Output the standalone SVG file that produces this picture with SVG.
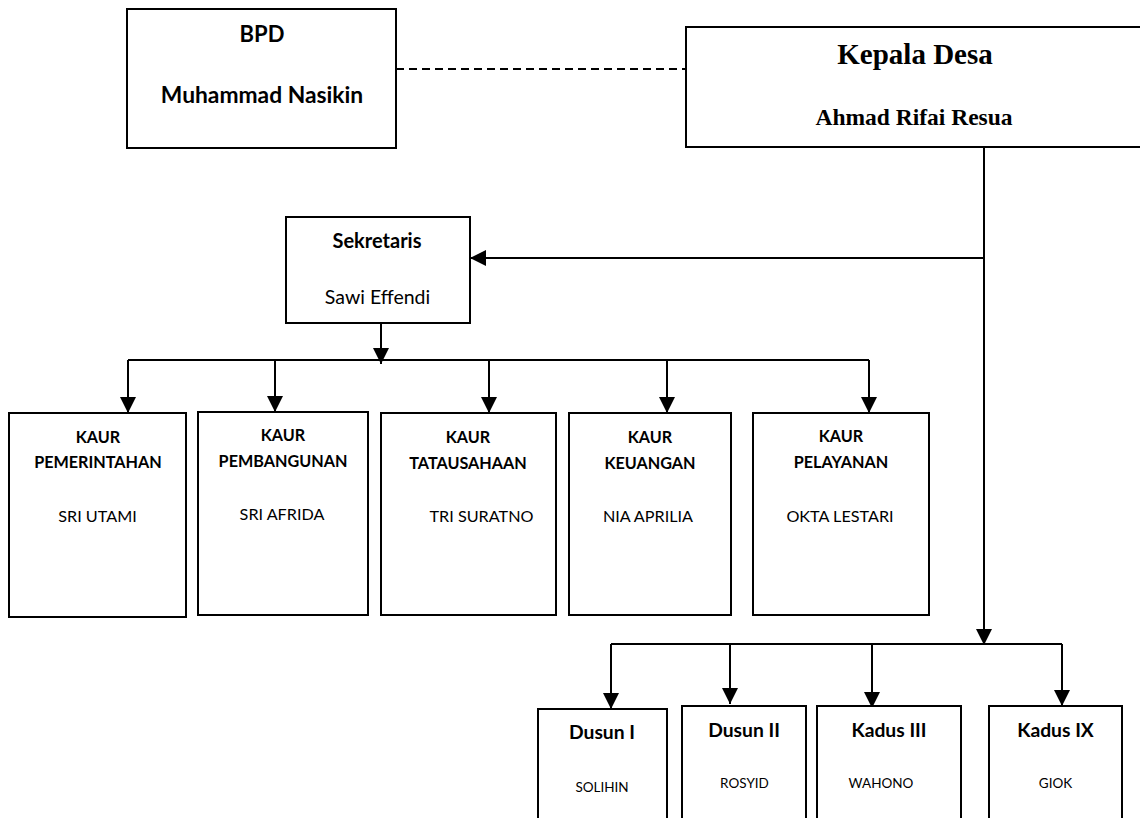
<svg xmlns="http://www.w3.org/2000/svg" width="1140" height="818" viewBox="0 0 1140 818">
<style>
.box{fill:#fff;stroke:#000;stroke-width:2}
.ln{fill:none;stroke:#000;stroke-width:2}
.t{font-family:Lato,"Liberation Sans",sans-serif;fill:#000;text-anchor:middle}
.b{font-weight:bold}
.kh{font-size:16.2px;font-weight:bold}
.kn{font-size:16.2px}
.dh{font-size:19.3px;font-weight:bold}
.dn{font-size:13.5px}
.serif{font-family:"Liberation Serif","Times New Roman",serif;font-weight:bold;fill:#000;text-anchor:middle}
</style>
<defs>
<marker id="ah" markerUnits="userSpaceOnUse" markerWidth="16" markerHeight="16" refX="15" refY="7.5" orient="auto" viewBox="0 0 15 15">
<path d="M0,0 L15,7.5 L0,15 z" fill="#000"/>
</marker>
</defs>
<rect width="1140" height="818" fill="#fff"/>
<g id="connectors">
<path class="ln" d="M396,69 H686" stroke-dasharray="8 5"/>
<path class="ln" d="M984,147 V645" marker-end="url(#ah)"/>
<path class="ln" d="M984,258 H470" marker-end="url(#ah)"/>
<path class="ln" d="M381,323 V364" marker-end="url(#ah)"/>
<path class="ln" d="M128,360 H869"/>
<path class="ln" d="M128,360 V413" marker-end="url(#ah)"/>
<path class="ln" d="M275,360 V412" marker-end="url(#ah)"/>
<path class="ln" d="M489,360 V413" marker-end="url(#ah)"/>
<path class="ln" d="M667,360 V413" marker-end="url(#ah)"/>
<path class="ln" d="M869,360 V413" marker-end="url(#ah)"/>
<path class="ln" d="M611,644 H1062"/>
<path class="ln" d="M611,644 V709" marker-end="url(#ah)"/>
<path class="ln" d="M730,644 V704" marker-end="url(#ah)"/>
<path class="ln" d="M872,644 V708" marker-end="url(#ah)"/>
<path class="ln" d="M1062,644 V706" marker-end="url(#ah)"/>
</g>
<g id="bpd">
<rect class="box" x="127" y="9" width="269" height="139"/>
<text class="t b" x="262" y="42" font-size="22">BPD</text>
<text class="t b" x="262" y="103" font-size="22.8">Muhammad Nasikin</text>
</g>
<g id="kepala">
<rect class="box" x="686" y="27" width="456" height="120"/>
<text class="serif" x="915" y="64" font-size="29">Kepala Desa</text>
<text class="serif" x="914" y="125" font-size="23.5">Ahmad Rifai Resua</text>
</g>
<g id="sekretaris">
<rect class="box" x="286" y="217" width="184" height="106"/>
<text class="t b" x="377" y="248" font-size="20">Sekretaris</text>
<text class="t" x="377.5" y="304" font-size="19.5">Sawi Effendi</text>
</g>
<g id="kaur-pemerintahan">
<rect class="box" x="9" y="413" width="177" height="204"/>
<text class="t kh" x="98" y="443">KAUR</text>
<text class="t kh" x="98" y="468">PEMERINTAHAN</text>
<text class="t kn" x="97.5" y="522">SRI UTAMI</text>
</g>
<g id="kaur-pembangunan">
<rect class="box" x="198" y="412" width="170" height="203"/>
<text class="t kh" x="283" y="441">KAUR</text>
<text class="t kh" x="283" y="467">PEMBANGUNAN</text>
<text class="t kn" x="282" y="520">SRI AFRIDA</text>
</g>
<g id="kaur-tatausahaan">
<rect class="box" x="381" y="413" width="175" height="202"/>
<text class="t kh" x="468" y="443">KAUR</text>
<text class="t kh" x="468" y="469">TATAUSAHAAN</text>
<text class="t kn" x="481.5" y="522">TRI SURATNO</text>
</g>
<g id="kaur-keuangan">
<rect class="box" x="569" y="413" width="162" height="202"/>
<text class="t kh" x="650" y="443">KAUR</text>
<text class="t kh" x="650" y="469">KEUANGAN</text>
<text class="t kn" x="648" y="522">NIA APRILIA</text>
</g>
<g id="kaur-pelayanan">
<rect class="box" x="753" y="413" width="176" height="202"/>
<text class="t kh" x="841" y="442">KAUR</text>
<text class="t kh" x="841" y="468">PELAYANAN</text>
<text class="t kn" x="840" y="522">OKTA LESTARI</text>
</g>
<g id="dusun-1">
<rect class="box" x="538" y="709" width="129" height="130"/>
<text class="t dh" x="602" y="739">Dusun I</text>
<text class="t dn" x="602" y="792">SOLIHIN</text>
</g>
<g id="dusun-2">
<rect class="box" x="682" y="706" width="124" height="130"/>
<text class="t dh" x="744" y="737">Dusun II</text>
<text class="t dn" x="744.5" y="788">ROSYID</text>
</g>
<g id="kadus-3">
<rect class="box" x="817" y="706" width="144" height="130"/>
<text class="t dh" x="889" y="737">Kadus III</text>
<text class="t dn" x="881" y="788">WAHONO</text>
</g>
<g id="kadus-9">
<rect class="box" x="989" y="706" width="133" height="130"/>
<text class="t dh" x="1055.5" y="737">Kadus IX</text>
<text class="t dn" x="1055.5" y="788">GIOK</text>
</g>
</svg>
